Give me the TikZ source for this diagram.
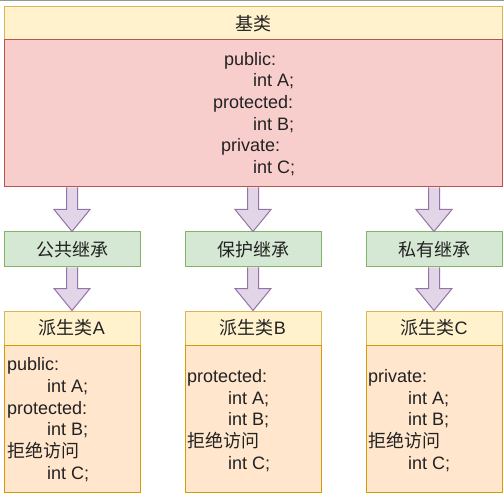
\documentclass[tikz,border=0pt]{standalone}
\usepackage{fontspec}
\setmainfont{Liberation Sans}
\newfontfamily\cjk{Noto Sans CJK SC}
\usetikzlibrary{calc}
\definecolor{hdrfill}{HTML}{FFF2CC}
\definecolor{hdrdraw}{HTML}{D6B656}
\definecolor{redfill}{HTML}{F8CECC}
\definecolor{reddraw}{HTML}{B85450}
\definecolor{grnfill}{HTML}{D5E8D4}
\definecolor{grndraw}{HTML}{82B366}
\definecolor{orgfill}{HTML}{FFE6CC}
\definecolor{orgdraw}{HTML}{D79B00}
\definecolor{arrfill}{HTML}{E1D5E7}
\definecolor{arrdraw}{HTML}{9673A6}
\definecolor{txt}{HTML}{222222}
\definecolor{topline}{HTML}{909C90}
\newcommand\fs{\fontsize{18}{21.7}\selectfont}
\newcommand\blockarrow[2]{%
  \fill[arrfill] ($(#1)+(-5.5,0)$) -- ($(#2)+(-5.5,-22)$) -- ($(#2)+(-18,-22)$) -- (#2) -- ($(#2)+(18,-22)$) -- ($(#2)+(5.5,-22)$) -- ($(#1)+(5.5,0)$) -- cycle;
  \draw[arrdraw, line width=1pt, line join=miter] ($(#1)+(-5.5,0)$) -- ($(#2)+(-5.5,-22)$) -- ($(#2)+(-18,-22)$) -- (#2) -- ($(#2)+(18,-22)$) -- ($(#2)+(5.5,-22)$) -- ($(#1)+(5.5,0)$);}
\tikzset{
  box/.style={draw, line width=1pt, inner sep=0pt, text=txt, font=\fs},
  hdr/.style={box, fill=hdrfill, draw=hdrdraw},
  basebody/.style={box, fill=redfill, draw=reddraw},
  grn/.style={box, fill=grnfill, draw=grndraw, minimum width=136pt, minimum height=35pt},
  dhdr/.style={hdr, minimum width=136pt, minimum height=34pt},
  dbody/.style={box, fill=orgfill, draw=orgdraw, minimum width=136pt, minimum height=147pt},
  code/.style={align=left, inner sep=0pt, text=txt, font=\fs, anchor=west},
}
\begin{document}
\begin{tikzpicture}[x=1pt, y=-1pt]
\useasboundingbox (0,0) rectangle (504,500);
\fill[white] (0,0) rectangle (504,500);
\coordinate (tl) at (0,0.75);
\coordinate (tr) at (504,0.75);
\draw[topline, line width=1.5pt] (tl) -- (tr);

% base class
\node[hdr, minimum width=498pt, minimum height=33pt] (bh) at (253,23.5) {{\cjk 基类}};
\node[basebody, minimum width=498pt, minimum height=147pt] (bb) at (253,113.5) {};
\node[code] (bt) at (213,114) {\hspace*{11pt}public:\\\hspace*{40pt}int A;\\protected:\\\hspace*{40pt}int B;\\\hspace*{8pt}private:\\\hspace*{40pt}int C;};

% inheritance modes
\node[grn] (g1) at (72,249.5) {{\cjk 公共继承}};
\node[grn] (g2) at (253,249.5) {{\cjk 保护继承}};
\node[grn] (g3) at (434,249.5) {{\cjk 私有继承}};

% derived classes
\node[dhdr] (h1) at (72,328) {{\cjk 派生类}A};
\node[dhdr] (h2) at (253,328) {{\cjk 派生类}B};
\node[dhdr] (h3) at (434,328) {{\cjk 派生类}C};
\node[dbody] (d1) at (72,418.5) {};
\node[dbody] (d2) at (253,418.5) {};
\node[dbody] (d3) at (434,418.5) {};
\node[code] (t1) at (7,419.5) {public:\\\hspace*{40pt}int A;\\protected:\\\hspace*{40pt}int B;\\{\cjk 拒绝访问}\\\hspace*{40pt}int C;};
\node[code] (t2) at (187,420.5) {protected:\\\hspace*{41pt}int A;\\\hspace*{41pt}int B;\\{\cjk 拒绝访问}\\\hspace*{41pt}int C;};
\node[code] (t3) at (368,420.5) {private:\\\hspace*{40pt}int A;\\\hspace*{40pt}int B;\\{\cjk 拒绝访问}\\\hspace*{40pt}int C;};

% arrows
\coordinate (s1) at (bb.south -| g1.north);
\coordinate (s2) at (bb.south -| g2.north);
\coordinate (s3) at (bb.south -| g3.north);
\blockarrow{s1}{g1.north}
\blockarrow{s2}{g2.north}
\blockarrow{s3}{g3.north}
\blockarrow{g1.south}{h1.north}
\blockarrow{g2.south}{h2.north}
\blockarrow{g3.south}{h3.north}
\end{tikzpicture}
\end{document}
